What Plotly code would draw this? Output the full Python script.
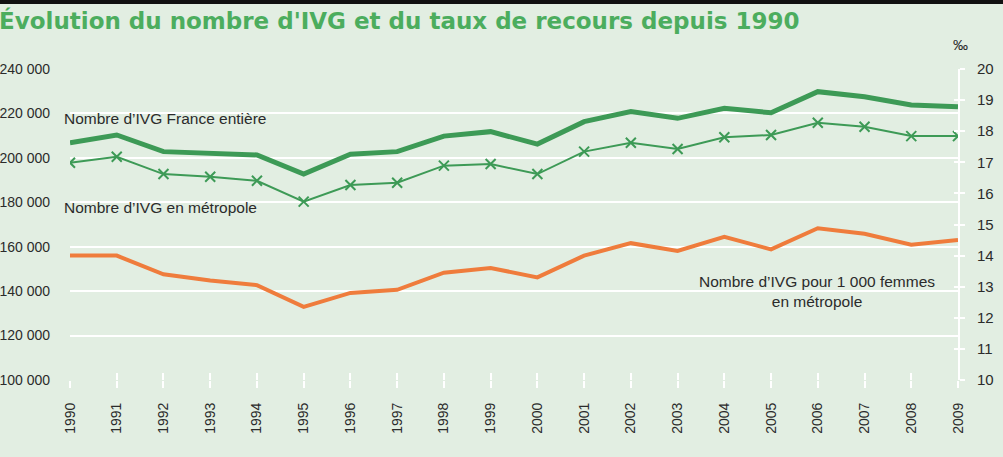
import plotly.graph_objects as go

years = list(range(1990, 2010))
ivg_france = [206800, 210300, 202800, 202300, 201300, 192700, 201600, 202800, 209800, 211800,
              206200, 216300, 220800, 217800, 222300, 220300, 229800, 227500, 223800, 223000]
ivg_metro = [197800, 200500, 192700, 191500, 189700, 180300, 187800, 188800, 196500, 197200,
             192700, 202800, 206800, 204000, 209300, 210300, 215800, 214000, 209800, 209800]
taux = [14.0, 14.0, 13.4, 13.2, 13.05, 12.35, 12.8, 12.9, 13.45, 13.6,
        13.3, 14.0, 14.4, 14.15, 14.6, 14.2, 14.88, 14.7, 14.35, 14.5]

left_ticks = [100000, 120000, 140000, 160000, 180000, 200000, 220000, 240000]
left_labels = ["100 000", "120 000", "140 000", "160 000", "180 000", "200 000", "220 000", "240 000"]
right_ticks = list(range(10, 21))

BG = "#e2eee2"
GREEN = "#3d9a56"
ORANGE = "#ef7c3c"
TXT = "#2b2b2b"
FONT = "Liberation Sans, Arial, sans-serif"

fig = go.Figure()
fig.add_trace(go.Scatter(x=years, y=ivg_france, mode="lines",
                         line=dict(color=GREEN, width=5), yaxis="y", xaxis="x",
                         showlegend=False))
fig.add_trace(go.Scatter(x=years, y=ivg_metro, mode="lines+markers",
                         line=dict(color=GREEN, width=2),
                         marker=dict(symbol="x-thin", size=10, line=dict(color=GREEN, width=2)),
                         yaxis="y", xaxis="x", showlegend=False))
fig.add_trace(go.Scatter(x=years, y=taux, mode="lines",
                         line=dict(color=ORANGE, width=4), yaxis="y2", xaxis="x",
                         showlegend=False))

W, H = 1003, 457
ml, mr, mt, mb = 70, 45, 69, 77
pw = W - ml - mr
ph = H - mt - mb

def px_x(p):
    return (p - ml) / pw

def px_y(p):
    return 1 - (p - mt) / ph

fig.update_layout(
    width=W, height=H,
    margin=dict(l=ml, r=mr, t=mt, b=mb, autoexpand=False),
    paper_bgcolor=BG, plot_bgcolor=BG,
    font=dict(family=FONT, size=14, color=TXT),
    xaxis=dict(range=[1990, 2009], tickvals=years, ticktext=[str(y) for y in years],
               tickangle=-90, showgrid=False, zeroline=False,
               showline=False, ticks="outside", ticklen=7, tickwidth=2, tickcolor="white",
               ticklabelstandoff=9, tickfont=dict(family=FONT, size=14, color=TXT)),
    xaxis2=dict(range=[1990, 2009], overlaying="x", tickvals=years, showticklabels=False,
                ticks="inside", ticklen=7, tickwidth=2, tickcolor="white",
                showgrid=False, zeroline=False, showline=False),
    yaxis=dict(range=[100000, 240000], tickvals=left_ticks, ticktext=left_labels,
               showgrid=True, gridcolor="white", gridwidth=2, zeroline=False,
               showline=False, ticks="", ticklabelstandoff=19,
               tickfont=dict(family=FONT, size=14, color=TXT)),
    yaxis2=dict(range=[10, 20], tickvals=right_ticks, overlaying="y", side="right",
                showgrid=False, zeroline=False, showline=True, linecolor="white", linewidth=2,
                ticks="outside", ticklen=5, tickwidth=2, tickcolor="white",
                ticklabelstandoff=9,
                tickfont=dict(family=FONT, size=15, color=TXT)),
    yaxis3=dict(range=[10, 20], tickvals=right_ticks, overlaying="y", side="right",
                showticklabels=False, showgrid=False, zeroline=False, showline=False,
                ticks="inside", ticklen=4, tickwidth=2, tickcolor="white"),
)

# dummy trace to activate overlay axes
fig.add_trace(go.Scatter(x=[None], y=[None], xaxis="x2", yaxis="y3", showlegend=False, hoverinfo="skip"))

# top dark band
fig.add_shape(type="rect", xref="paper", yref="paper",
              x0=px_x(0), x1=px_x(W), y0=px_y(4), y1=px_y(0),
              fillcolor="#111111", line=dict(width=0), layer="above")

fig.add_annotation(text="Évolution du nombre d'IVG et du taux de recours depuis 1990",
                   xref="paper", yref="paper", x=px_x(-3), y=px_y(20),
                   xanchor="left", yanchor="middle", showarrow=False,
                   font=dict(family="DejaVu Sans, Verdana, sans-serif", size=23,
                             color="#4cad5e", weight="bold"))

fig.add_annotation(text="‰", xref="paper", yref="paper", x=px_x(960), y=px_y(45),
                   xanchor="center", yanchor="middle", showarrow=False,
                   font=dict(family=FONT, size=15, color=TXT))

fig.add_annotation(text="Nombre d’IVG France entière", xref="paper", yref="paper",
                   x=px_x(62), y=px_y(118), xanchor="left", yanchor="middle",
                   showarrow=False, font=dict(family=FONT, size=15.5, color=TXT))
fig.add_annotation(text="Nombre d’IVG en métropole", xref="paper", yref="paper",
                   x=px_x(62), y=px_y(207), xanchor="left", yanchor="middle",
                   showarrow=False, font=dict(family=FONT, size=15.5, color=TXT))
fig.add_annotation(text="Nombre d’IVG pour 1 000 femmes<br>en métropole", xref="paper", yref="paper",
                   x=px_x(817), y=px_y(291), xanchor="center", yanchor="middle", align="center",
                   showarrow=False, font=dict(family=FONT, size=15.5, color=TXT))

fig.write_html("out.html",
               config={"displayModeBar": False},
               post_script="document.body.style.margin='0';document.body.style.background='%s';"
                           "document.documentElement.style.overflow='hidden';" % BG)
